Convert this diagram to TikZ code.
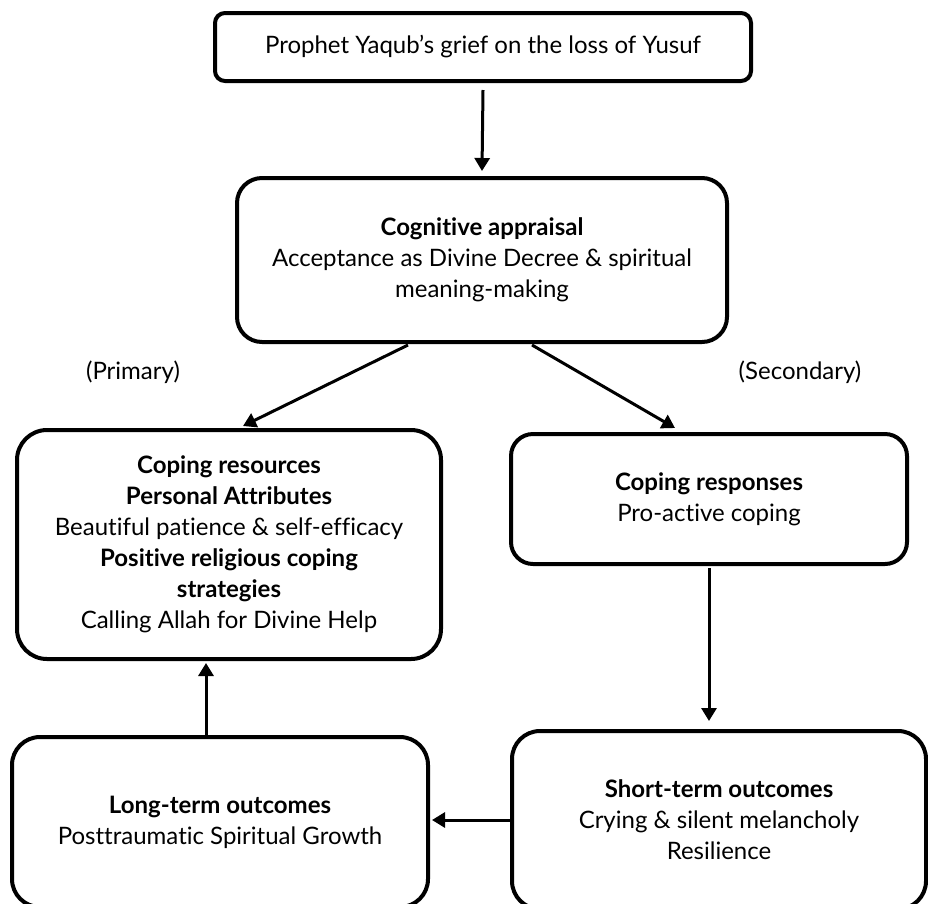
\documentclass[tikz,border=0pt]{standalone}
\usepackage{fontspec}
\setmainfont{Lato}[Ligatures={NoCommon}]
\usetikzlibrary{arrows.meta,calc}
\begin{document}
\begin{tikzpicture}[x=1pt,y=-1pt,
  box/.style={draw=black, line width=4pt, align=center, inner sep=0pt, font=\fontsize{24}{31}\selectfont},
  arr/.style={line width=3pt, -{Triangle[length=13pt,width=15pt]}},
  lbl/.style={font=\fontsize{24}{31}\selectfont, inner sep=0pt}]
\path[use as bounding box] (0,0) rectangle (928,903);
\clip (0,0) rectangle (928,903);
\node[box, rounded corners=10pt, minimum width=536pt, minimum height=68pt] (top) at (483,47)
  {Prophet Yaqub’s grief on the loss of Yusuf};
\node[box, rounded corners=25pt, minimum width=490pt, minimum height=164pt] (cog) at (482,260)
  {\textbf{Cognitive appraisal}\\Acceptance as Divine Decree \& spiritual\\meaning-making};
\node[box, rounded corners=30pt, minimum width=424pt, minimum height=229pt] (res) at (229,544.5)
  {\textbf{Coping resources}\\\textbf{Personal Attributes}\\Beautiful patience \& self-efficacy\\\textbf{Positive religious coping}\\\textbf{strategies}\\Calling Allah for Divine Help};
\node[box, rounded corners=22pt, minimum width=396pt, minimum height=130pt] (resp) at (709,499)
  {\textbf{Coping responses}\\Pro-active coping};
\node[box, rounded corners=28pt, minimum width=414pt, minimum height=178pt] (short) at (719,820)
  {\textbf{Short-term outcomes}\\Crying \& silent melancholy\\Resilience};
\node[box, rounded corners=28pt, minimum width=416pt, minimum height=170pt] (long) at (220,822)
  {\textbf{Long-term outcomes}\\Posttraumatic Spiritual Growth};
\node[lbl] (prim) at (133,372) {(Primary)};
\node[lbl] (sec) at (800,372) {(Secondary)};
\draw[arr] ([yshift=-7pt]top.south) -- ([yshift=5pt]cog.north);
\draw[arr] ([xshift=-74pt,yshift=-1pt]cog.south) -- ([xshift=14pt,yshift=2pt]res.north);
\draw[arr] ([xshift=50pt,yshift=-1pt]cog.south) -- ([xshift=-34pt,yshift=4pt]resp.north);
\draw[arr] ([yshift=-2pt]resp.south) -- ($(resp.south |- short.north)+(0,-8)$);
\draw[arr] (short.west) -- ($(short.west -| long.east)+(2,0)$);
\draw[arr] ([xshift=-14pt]long.north) -- ([xshift=-23pt,yshift=-2pt]res.south);
\end{tikzpicture}
\end{document}
